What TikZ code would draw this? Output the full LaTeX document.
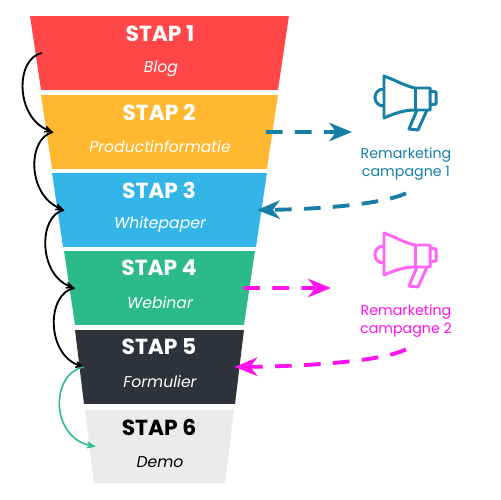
\documentclass[tikz,border=0pt]{standalone}
\usepackage{fontspec}
\setmainfont{Poppins}
\usetikzlibrary{arrows.meta,shapes.geometric}

\definecolor{stapRood}{HTML}{FF4747}
\definecolor{stapOranje}{HTML}{FFB82F}
\definecolor{stapBlauw}{HTML}{34B5E8}
\definecolor{stapGroen}{HTML}{2BBA88}
\definecolor{stapDonker}{HTML}{2E323A}
\definecolor{stapGrijs}{HTML}{EBEBEB}
\definecolor{campBlauw}{HTML}{157FA6}
\definecolor{campRoze}{HTML}{FF12EE}
\definecolor{iconRoze}{HTML}{FF66F5}

\newcommand{\vak}[1]{\phantom{\rule{#1}{1.48cm}}}

\tikzset{
  stap/.style={trapezium, shape border rotate=180, draw=none, inner sep=0pt, outer sep=0pt},
  titel/.style={font=\fontsize{12.4}{14}\selectfont\bfseries, text=white},
  sub/.style={font=\fontsize{8.9}{10}\selectfont\itshape, text=white},
  remarketing/.style={font=\fontsize{8.1}{10}\selectfont, align=center},
  volgt/.style={-{Stealth[length=8pt,width=7pt,inset=5pt]}, line width=1.05pt, black},
  retarget/.style={-{Stealth[length=13pt,width=10.5pt,inset=4pt]}, line width=2.2pt, dash pattern=on 9.5pt off 7pt},
  megafoon/.pic={
    \draw[line width=1.7pt, line join=round, pic actions]
      (384,76) .. controls (395,80) and (405,86) .. (415,88) -- (430,88) -- (430,110) -- (415,110)
      .. controls (405,110) and (395,113) .. (384,118) -- cycle;
    \draw[line width=1.7pt, pic actions] (415,88) -- (415,110);
    \draw[line width=1.7pt, pic actions] (384,89) .. controls (372,89) and (372,106) .. (384,106);
    \draw[line width=1.7pt, line join=round, pic actions] (430,91) -- (436,92) -- (436,104) -- (430,105);
    \draw[line width=1.7pt, line join=round, pic actions] (417,110) -- (409,129) -- (418,130) -- (427,110);
  }
}

\begin{document}
\begin{tikzpicture}[x=0.02cm, y=-0.02cm]
  \useasboundingbox (0,0) rectangle (500,500);

  % trechter
  \node[stap, fill=stapRood, trapezium angle=81.55] (stap1) at (159.5,53) {\vak{4.74cm}};
  \node[stap, fill=stapOranje, trapezium angle=81.55] (stap2) at (159.5,132) {\vak{4.30cm}};
  \node[stap, fill=stapBlauw, trapezium angle=81.55] (stap3) at (159.5,210) {\vak{3.86cm}};
  \node[stap, fill=stapGroen, trapezium angle=81.55] (stap4) at (159.5,288) {\vak{3.38cm}};
  \node[stap, fill=stapDonker, trapezium angle=83.07] (stap5) at (159.5,367) {\vak{3.02cm}};
  \node[stap, fill=stapGrijs, trapezium angle=83.07] (stap6) at (159.5,446.5) {\vak{2.62cm}};

  \node[titel] (titel1) at (160,34) {STAP 1};
  \node[sub] (sub1) at (161,69) {Blog};
  \node[titel] (titel2) at (159,112) {STAP 2};
  \node[sub] (sub2) at (160,147) {Productinformatie};
  \node[titel] (titel3) at (159,190) {STAP 3};
  \node[sub] (sub3) at (160,225) {Whitepaper};
  \node[titel] (titel4) at (159,268) {STAP 4};
  \node[sub] (sub4) at (160,303) {Webinar};
  \node[titel] (titel5) at (159,347) {STAP 5};
  \node[sub] (sub5) at (160,382) {Formulier};
  \node[titel, text=black] (titel6) at (159,427) {STAP 6};
  \node[sub, text=black] (sub6) at (160,462) {Demo};

  % bochten links
  \coordinate (links1) at ([xshift=0.13cm]stap1.west);
  \coordinate (links2) at ([xshift=0.13cm]stap2.west);
  \coordinate (links3) at ([xshift=0.13cm]stap3.west);
  \coordinate (links4) at ([xshift=0.10cm]stap4.west);
  \coordinate (links5) at ([xshift=0.09cm]stap5.west);
  \coordinate (links6) at ([xshift=0.12cm]stap6.west);
  \draw[volgt] (links1) .. controls (15,58) and (15,118) .. (links2);
  \draw[volgt] (links2) .. controls (27,138) and (27,195) .. (links3);
  \draw[volgt] (links3) .. controls (38,215) and (38,275) .. (links4);
  \draw[volgt] (links4) .. controls (46,293) and (46,355) .. (links5);
  \draw[volgt, stapGroen, line width=0.9pt] (links5) .. controls (50,373) and (50,438) .. (links6);

  % campagne 1
  \pic[color=campBlauw] (icoon1) at (0,0) {megafoon};
  \node[remarketing, text=campBlauw] (camp1) at (406,164) {Remarketing\\campagne 1};
  \coordinate (uit1) at ([xshift=-0.13cm]stap2.east);
  \coordinate (doel1) at (352,132);
  \coordinate (terug1) at ([yshift=-0.14cm]camp1.south);
  \coordinate (terug1b) at ([xshift=-0.09cm]stap3.east);
  \draw[retarget, campBlauw] (uit1) -- (doel1);
  \draw[retarget, campBlauw] (terug1) .. controls (385,203) and (330,209) .. (terug1b);

  % campagne 2
  \pic[color=iconRoze] (icoon2) at (0,157) {megafoon};
  \node[remarketing, text=campRoze] (camp2) at (406,321) {Remarketing\\campagne 2};
  \coordinate (uit2) at ([xshift=-0.12cm]stap4.east);
  \coordinate (doel2) at (331,288);
  \coordinate (terug2) at ([yshift=-0.12cm]camp2.south);
  \coordinate (terug2b) at ([xshift=-0.10cm]stap5.east);
  \draw[retarget, campRoze] (uit2) -- (doel2);
  \draw[retarget, campRoze] (terug2) .. controls (385,360) and (320,366) .. (terug2b);
\end{tikzpicture}
\end{document}
